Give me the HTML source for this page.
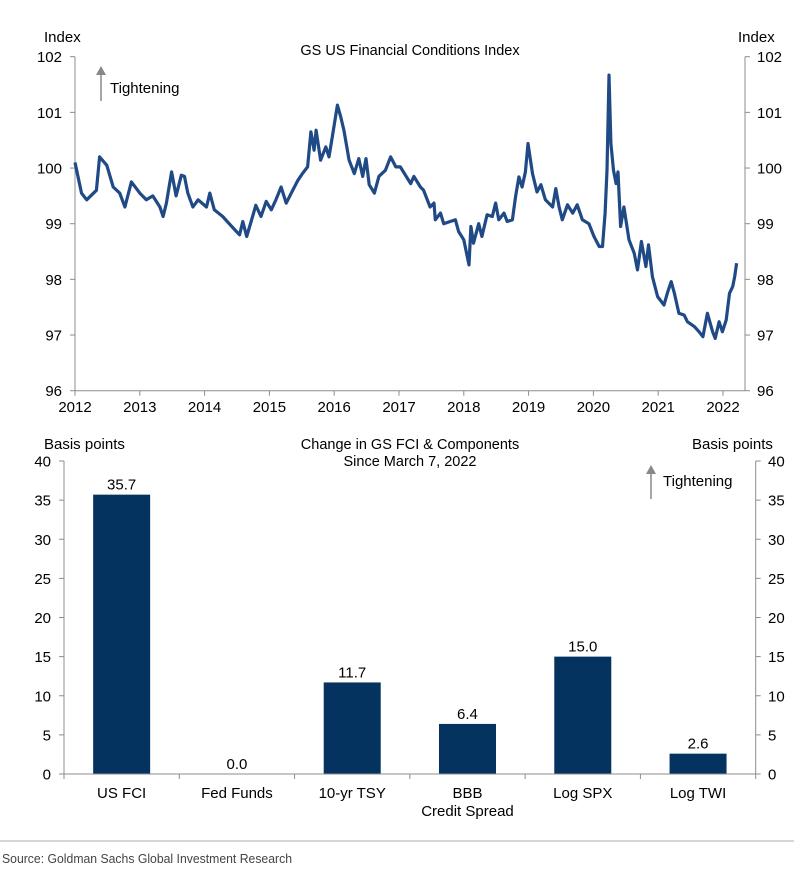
<!DOCTYPE html>
<html><head><meta charset="utf-8"><style>
body{margin:0;background:#fff;}
svg{display:block;font-family:"Liberation Sans",Arial,sans-serif;}
</style></head><body>
<svg id="c" width="794" height="872"></svg>
<script>
const years=[2012,2013,2014,2015,2016,2017,2018,2019,2020,2021,2022];
const yTicksTop=[96,97,98,99,100,101,102];
const fciDates=[2012.0,2012.1,2012.18,2012.33,2012.38,2012.49,2012.59,2012.69,2012.77,2012.87,2013.0,2013.1,2013.2,2013.31,2013.36,2013.41,2013.49,2013.56,2013.64,2013.69,2013.74,2013.82,2013.9,2014.03,2014.08,2014.15,2014.28,2014.38,2014.49,2014.54,2014.59,2014.65,2014.74,2014.79,2014.87,2014.95,2015.03,2015.1,2015.18,2015.26,2015.36,2015.44,2015.51,2015.59,2015.64,2015.69,2015.72,2015.79,2015.87,2015.92,2015.97,2016.05,2016.1,2016.15,2016.23,2016.31,2016.38,2016.44,2016.49,2016.54,2016.62,2016.69,2016.79,2016.87,2016.95,2017.02,2017.18,2017.23,2017.33,2017.38,2017.48,2017.54,2017.56,2017.64,2017.69,2017.79,2017.87,2017.92,2018.0,2018.08,2018.11,2018.15,2018.23,2018.28,2018.36,2018.44,2018.49,2018.54,2018.62,2018.67,2018.75,2018.8,2018.85,2018.9,2018.95,2018.99,2019.06,2019.13,2019.19,2019.26,2019.37,2019.42,2019.47,2019.52,2019.6,2019.68,2019.75,2019.83,2019.93,2020.01,2020.09,2020.14,2020.18,2020.21,2020.24,2020.27,2020.31,2020.35,2020.38,2020.42,2020.47,2020.55,2020.63,2020.68,2020.74,2020.81,2020.85,2020.91,2020.99,2021.09,2021.14,2021.2,2021.25,2021.32,2021.4,2021.45,2021.56,2021.63,2021.69,2021.76,2021.84,2021.88,2021.94,2021.99,2022.05,2022.1,2022.15,2022.18,2022.21];
const fciValues=[100.1,99.55,99.43,99.6,100.2,100.05,99.66,99.55,99.3,99.75,99.55,99.43,99.5,99.3,99.13,99.37,99.93,99.5,99.87,99.85,99.55,99.3,99.43,99.3,99.55,99.25,99.13,99.0,98.86,98.8,99.04,98.77,99.13,99.33,99.13,99.4,99.25,99.43,99.66,99.37,99.6,99.78,99.9,100.02,100.65,100.32,100.68,100.14,100.38,100.2,100.56,101.13,100.92,100.68,100.14,99.9,100.17,99.85,100.17,99.7,99.55,99.85,99.96,100.2,100.02,100.02,99.72,99.85,99.66,99.6,99.3,99.37,99.07,99.19,99.0,99.04,99.07,98.86,98.71,98.26,98.95,98.65,99.0,98.77,99.16,99.13,99.37,99.07,99.19,99.04,99.07,99.49,99.84,99.66,99.93,100.44,99.9,99.57,99.7,99.43,99.3,99.63,99.3,99.07,99.34,99.19,99.34,99.07,99.0,98.77,98.59,98.59,99.19,99.96,101.67,100.44,99.96,99.72,99.93,98.95,99.3,98.71,98.47,98.17,98.68,98.23,98.62,98.05,97.69,97.54,97.75,97.96,97.75,97.39,97.36,97.24,97.15,97.06,96.97,97.39,97.06,96.94,97.24,97.06,97.27,97.75,97.87,98.05,98.29];
const categories=[["US FCI"],["Fed Funds"],["10-yr TSY"],["BBB","Credit Spread"],["Log SPX"],["Log TWI"]];
const changeValues=[35.7,0.0,11.7,6.4,15.0,2.6];
const yTicksBot=[0,5,10,15,20,25,30,35,40];

const svg=document.getElementById('c');
const NS='http://www.w3.org/2000/svg';
function mk(tag,attrs,parent){const e=document.createElementNS(NS,tag);for(const k in attrs)e.setAttribute(k,attrs[k]);(parent||svg).appendChild(e);return e;}
function txt(s,x,y,anchor,size,parent){const t=mk('text',{x:x,y:y,'text-anchor':anchor||'start','font-size':size||15,fill:'#000'},parent);t.textContent=s;return t;}
const AX='#8c8c8c';

// ---- Top chart ----
const tL=75,tR=745,tT=56.7,tB=390.7;
const xT=y=>tL+(y-2012)*64.8;
const yT=v=>tB-(v-96)*(tB-tT)/6;
const g1=mk('g',{});


let la=mk('line',{x1:tL,y1:tT,x2:tL,y2:tB,stroke:AX,'stroke-width':1},g1);

let ra=mk('line',{x1:tR,y1:tT,x2:tR,y2:tB,stroke:AX,'stroke-width':1},g1);

let xa=mk('line',{x1:tL,y1:tB,x2:tR,y2:tB,stroke:AX,'stroke-width':1},g1);

yTicksTop.forEach(v=>{const y=yT(v);
 mk('line',{x1:tL-5,y1:y,x2:tL,y2:y,stroke:AX},g1);
 mk('line',{x1:tR,y1:y,x2:tR+5,y2:y,stroke:AX},g1);
 let a=txt(String(v),62,y+5.5,'end',15,g1);
 let b=txt(String(v),757,y+5.5,'start',15,g1);
});
years.forEach(yr=>{const x=xT(yr);
 mk('line',{x1:x,y1:tB,x2:x,y2:tB+5,stroke:AX},g1);
 let t=txt(String(yr),x,412,'middle',15,g1);
});
let d='';fciDates.forEach((dt,i)=>{d+=(i?'L':'M')+xT(dt).toFixed(1)+','+yT(fciValues[i]).toFixed(1);});
let ln=mk('path',{d:d,fill:'none',stroke:'#1f4a85','stroke-width':3.2,'stroke-linejoin':'round'},g1);

let t1=txt('Index',44,42,'start',15,g1);
let t2=txt('Index',738,42,'start',15,g1);
let t3=txt('GS US Financial Conditions Index',410,55,'middle',14.5,g1);
let ar1=mk('g',{},g1);
mk('line',{x1:101,y1:72,x2:101,y2:101,stroke:'#888','stroke-width':1.5},ar1);
mk('polygon',{points:'96,75 106,75 101,66',fill:'#888'},ar1);
let t4=txt('Tightening',110,93,'start',15,g1);

// ---- Bottom chart ----
const bL=64,bR=755.7,bT=461,bB=774;
const yB=v=>bB-v*(bB-bT)/40;
const cw=(bR-bL)/categories.length;
const g2=mk('g',{});


let bla=mk('line',{x1:bL,y1:bT,x2:bL,y2:bB,stroke:AX},g2);
let bra=mk('line',{x1:bR,y1:bT,x2:bR,y2:bB,stroke:AX},g2);
yTicksBot.forEach(v=>{const y=yB(v);
 mk('line',{x1:bL-5,y1:y,x2:bL,y2:y,stroke:AX},g2);
 mk('line',{x1:bR,y1:y,x2:bR+5,y2:y,stroke:AX},g2);
 let a=txt(String(v),51,y+5.5,'end',15,g2);
 let b=txt(String(v),768,y+5.5,'start',15,g2);
});
categories.forEach((c,i)=>{
 const cx=bL+cw*(i+0.5),v=changeValues[i];
 const r=mk('rect',{x:cx-28.5,y:yB(v),width:57,height:bB-yB(v),fill:'#03335e'},g2);
 
 
 let vl=txt(v.toFixed(1),cx,yB(v)-5,'middle',15,g2);
 c.forEach((s,j)=>{let cl=txt(s,cx,798+j*18,'middle',15,g2);});
});
for(let i=0;i<=categories.length;i++){const x=bL+cw*i;mk('line',{x1:x,y1:bB,x2:x,y2:bB+5,stroke:AX},g2);}
let bxa=mk('line',{x1:bL,y1:bB,x2:bR,y2:bB,stroke:AX},g2);
let b1=txt('Basis points',44,449,'start',15,g2);
let b2=txt('Basis points',692,449,'start',15,g2);
let b3=txt('Change in GS FCI & Components',410,449,'middle',14.5,g2);
let b4=txt('Since March 7, 2022',410,466,'middle',14.5,g2);
let ar2=mk('g',{},g2);
mk('line',{x1:651,y1:471,x2:651,y2:499,stroke:'#888','stroke-width':1.5},ar2);
mk('polygon',{points:'646,474 656,474 651,465',fill:'#888'},ar2);
let b5=txt('Tightening',663,486,'start',15,g2);

let sep=mk('line',{x1:0,y1:841,x2:794,y2:841,stroke:'#c8c8c8','stroke-width':1.5});

let src=txt('Source: Goldman Sachs Global Investment Research',2,863,'start',13);
src.setAttribute('fill','#444');src.setAttribute('textLength','290');src.setAttribute('lengthAdjust','spacingAndGlyphs');

</script>
</body></html>
